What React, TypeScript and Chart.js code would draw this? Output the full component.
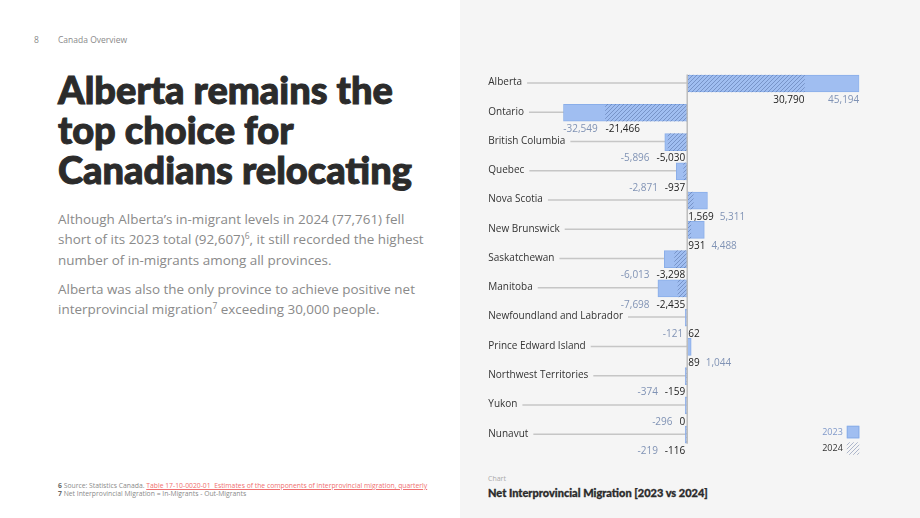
import React, { useEffect, useRef } from 'react';
import { Chart, registerables } from 'chart.js';

Chart.register(...registerables);

const provinces = [
  'Alberta',
  'Ontario',
  'British Columbia',
  'Quebec',
  'Nova Scotia',
  'New Brunswick',
  'Saskatchewan',
  'Manitoba',
  'Newfoundland and Labrador',
  'Prince Edward Island',
  'Northwest Territories',
  'Yukon',
  'Nunavut',
];
const net2023 = [45194, -32549, -5896, -2871, 5311, 4488, -6013, -7698, -121, 1044, -374, -296, -219];
const net2024 = [30790, -21466, -5030, -937, 1569, 931, -3298, -2435, 62, 89, -159, 0, -116];
const seriesLabels = ['2023', '2024'];

const BAR_FILL = '#a0bef1';
const BAR_BORDER = '#8aaee9';
const LABEL_FONT = '10px "Open Sans"';

function makeHatch(): CanvasPattern | string {
  const pc = document.createElement('canvas');
  pc.width = 4;
  pc.height = 4;
  const g = pc.getContext('2d');
  if (!g) return 'rgba(80,90,120,0.3)';
  g.strokeStyle = 'rgba(55,80,135,0.38)';
  g.lineWidth = 1;
  g.beginPath();
  g.moveTo(0, 4);
  g.lineTo(4, 0);
  g.moveTo(-1, 1);
  g.lineTo(1, -1);
  g.moveTo(3, 5);
  g.lineTo(5, 3);
  g.stroke();
  const p = g.createPattern(pc, 'repeat');
  return p || 'rgba(80,90,120,0.3)';
}

const fmt = (v: number) => v.toLocaleString('en-US');

const annotatePlugin = {
  id: 'annotate',
  beforeDatasetsDraw(chart: any) {
    const { ctx, chartArea, scales } = chart;
    const x = scales.x;
    const y = scales.y;
    const zero = x.getPixelForValue(0);
    ctx.save();
    ctx.font = LABEL_FONT;
    ctx.textBaseline = 'middle';
    ctx.textAlign = 'left';
    provinces.forEach((p, i) => {
      const cy = y.getPixelForValue(i);
      const lx = chartArea.left - 75;
      ctx.fillStyle = '#333333';
      ctx.fillText(p, lx, cy - 1);
      const w = ctx.measureText(p).width;
      ctx.strokeStyle = '#c6c6c6';
      ctx.lineWidth = 1.5;
      ctx.beginPath();
      ctx.moveTo(lx + w + 5, cy - 0.5);
      ctx.lineTo(zero, cy - 0.5);
      ctx.stroke();
    });
    ctx.restore();
  },
  afterDatasetsDraw(chart: any) {
    const { ctx, chartArea, scales } = chart;
    const x = scales.x;
    const y = scales.y;
    const zero = x.getPixelForValue(0);
    ctx.save();
    // zero axis line
    const top = y.getPixelForValue(0) - 9;
    const bottom = y.getPixelForValue(provinces.length - 1) + 9;
    ctx.strokeStyle = '#bdbdbd';
    ctx.lineWidth = 1.5;
    ctx.beginPath();
    ctx.moveTo(zero, top);
    ctx.lineTo(zero, bottom);
    ctx.stroke();

    // value labels
    ctx.font = LABEL_FONT;
    ctx.textBaseline = 'middle';
    ctx.textAlign = 'left';
    provinces.forEach((_, i) => {
      const cy = y.getPixelForValue(i) + 16.5;
      const v23 = net2023[i];
      const v24 = net2024[i];
      const t23 = fmt(v23);
      const t24 = fmt(v24);
      const w23 = ctx.measureText(t23).width;
      const w24 = ctx.measureText(t24).width;
      const x23 = x.getPixelForValue(v23);
      const x24 = x.getPixelForValue(v24);
      let l24: number;
      let l23: number;
      if (v24 > 0) l24 = Math.max(zero + 1, x24 - w24);
      else l24 = Math.min(x24, zero - 2 - w24);
      if (v23 > 0) {
        l23 = x23 - w23;
        if (v24 > 0) l23 = Math.max(l23, l24 + w24 + 6);
        else l23 = Math.max(l23, zero + 1);
      } else {
        l23 = x23;
        if (v24 <= 0) l23 = Math.min(l23, l24 - 7 - w23);
        else l23 = Math.min(l23, zero - 4 - w23);
      }
      ctx.fillStyle = '#222222';
      ctx.fillText(t24, l24, cy);
      ctx.fillStyle = '#8093b5';
      ctx.fillText(t23, l23, cy);
    });

    // legend
    const ds = chart.data.datasets;
    const bx = chartArea.right - 12.5;
    const by0 = chartArea.bottom - 23.5;
    ctx.font = '9px "Open Sans"';
    ctx.textAlign = 'right';
    [0, 1].forEach((k) => {
      const by = by0 + k * 16.5;
      ctx.fillStyle = ds[k].backgroundColor;
      ctx.fillRect(bx, by, 12.5, 12.5);
      if (k === 0) {
        ctx.strokeStyle = BAR_BORDER;
        ctx.lineWidth = 1;
        ctx.strokeRect(bx + 0.5, by + 0.5, 11.5, 11.5);
      }
      ctx.fillStyle = k === 0 ? '#7f98c9' : '#333333';
      ctx.fillText(ds[k].label, bx - 4, by + 6.5);
    });
    ctx.restore();
  },
};

function MigrationChart() {
  const ref = useRef<HTMLCanvasElement | null>(null);
  useEffect(() => {
    if (!ref.current) return;
    const hatch = makeHatch();
    const minV = Math.min(...net2023, ...net2024);
    const maxV = Math.max(...net2023, ...net2024);
    const chart = new Chart(ref.current, {
      type: 'bar',
      data: {
        labels: provinces,
        datasets: [
          {
            label: seriesLabels[0],
            data: net2023,
            backgroundColor: BAR_FILL,
            borderColor: BAR_BORDER,
            borderWidth: 1,
            borderSkipped: false,
            grouped: false,
            order: 2,
            barThickness: 17,
            minBarLength: 2,
          },
          {
            label: seriesLabels[1],
            data: net2024,
            backgroundColor: hatch as any,
            borderWidth: 0,
            grouped: false,
            order: 1,
            barThickness: 17,
          },
        ],
      },
      options: {
        indexAxis: 'y',
        animation: false,
        responsive: false,
        maintainAspectRatio: false,
        layout: { padding: { left: 103.3, right: 60.7, top: 8.9, bottom: 10.7 } },
        scales: {
          x: { display: false, min: minV, max: maxV },
          y: { display: false },
        },
        plugins: {
          legend: { display: false },
          tooltip: { enabled: false },
        },
      },
      plugins: [annotatePlugin],
    });
    return () => chart.destroy();
  }, []);
  return <canvas ref={ref} width={460} height={400} style={{ position: 'absolute', left: 460, top: 60, width: 460, height: 400 }} />;
}

export default function App() {
  const sup: React.CSSProperties = { fontSize: 8.5, verticalAlign: 'super', lineHeight: 0 };
  return (
    <div
      style={{
        position: 'fixed',
        left: 0,
        top: 0,
        width: 920,
        height: 518,
        background: '#ffffff',
        overflow: 'hidden',
        fontFamily: '"Open Sans", sans-serif',
      }}
    >
      <div style={{ position: 'absolute', left: 460, top: 0, width: 460, height: 518, background: '#f5f5f5' }} />
      <div style={{ position: 'absolute', left: 34, top: 34, fontSize: 8.5, lineHeight: '12px', color: '#8a8a8a' }}>8</div>
      <div style={{ position: 'absolute', left: 58, top: 34, fontSize: 8.5, lineHeight: '12px', color: '#8a8a8a' }}>Canada Overview</div>
      <div
        style={{
          position: 'absolute',
          left: 58,
          top: 69,
          fontFamily: 'Lato, sans-serif',
          fontWeight: 900,
          fontSize: 38,
          lineHeight: '40px',
          color: '#2b2b2b',
          whiteSpace: 'nowrap',
          WebkitTextStroke: '1px #2b2b2b',
        }}
      >
        Alberta remains the
        <br />
        top choice for
        <br />
        Canadians relocating
      </div>
      <div
        style={{
          position: 'absolute',
          left: 58,
          top: 208.75,
          fontSize: 13.45,
          lineHeight: '20.5px',
          color: '#8a8a8a',
          whiteSpace: 'nowrap',
        }}
      >
        Although Alberta’s in-migrant levels in 2024 (77,761) fell
        <br />
        short of its 2023 total (92,607)<span style={sup}>6</span>, it still recorded the highest
        <br />
        number of in-migrants among all provinces.
      </div>
      <div
        style={{
          position: 'absolute',
          left: 58,
          top: 278.75,
          fontSize: 13.45,
          lineHeight: '20.5px',
          color: '#8a8a8a',
          whiteSpace: 'nowrap',
        }}
      >
        Alberta was also the only province to achieve positive net
        <br />
        interprovincial migration<span style={sup}>7</span> exceeding 30,000 people.
      </div>
      <div
        style={{
          position: 'absolute',
          left: 58,
          top: 482,
          fontSize: 6.8,
          lineHeight: '7.5px',
          color: '#8a8a8a',
          whiteSpace: 'nowrap',
        }}
      >
        <b style={{ color: '#666' }}>6</b> Source: Statistics Canada.{' '}
        <span style={{ color: '#f07070', textDecoration: 'underline' }}>
          Table 17-10-0020-01&nbsp; Estimates of the components of interprovincial migration, quarterly
        </span>
        <br />
        <b style={{ color: '#666' }}>7</b> Net Interprovincial Migration = In-Migrants - Out-Migrants
      </div>
      <MigrationChart />
      <div style={{ position: 'absolute', left: 488, top: 474, fontSize: 7, lineHeight: '10px', color: '#aaaaaa' }}>Chart</div>
      <div
        style={{
          position: 'absolute',
          left: 488,
          top: 485,
          fontFamily: 'Lato, sans-serif',
          fontWeight: 900,
          fontSize: 11,
          lineHeight: '15px',
          color: '#2b2b2b',
          whiteSpace: 'nowrap',
          WebkitTextStroke: '0.3px #2b2b2b',
        }}
      >
        Net Interprovincial Migration [2023 vs 2024]
      </div>
    </div>
  );
}
